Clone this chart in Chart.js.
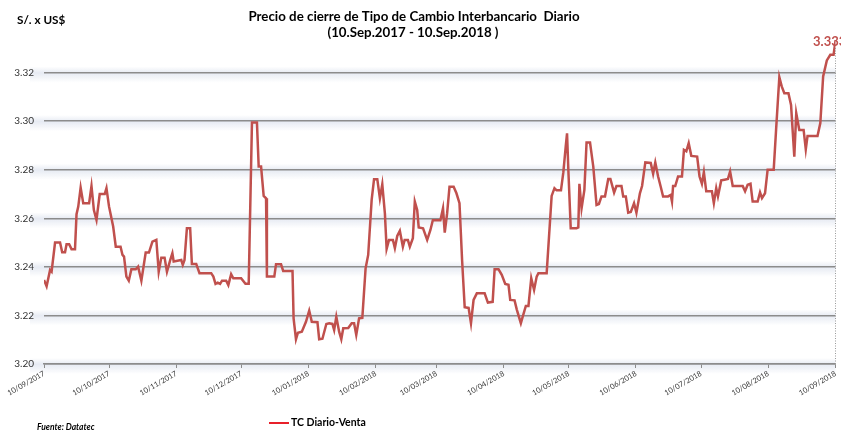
<!DOCTYPE html>
<html>
<head>
<meta charset="utf-8">
<script src="https://cdn.jsdelivr.net/npm/chart.js@4/dist/chart.umd.min.js"></script>
<style>
  html, body { margin: 0; padding: 0; background: #fff; }
  #wrap { width: 841px; height: 431px; }
</style>
</head>
<body>
<div id="wrap"><canvas id="tcChart" width="841" height="431"></canvas></div>
<script>
// days counted from 10/09/2017
const tickDays = [0, 30, 61, 91, 122, 153, 181, 212, 242, 273, 303, 334, 365];
const tickLabels = ['10/09/2017', '10/10/2017', '10/11/2017', '10/12/2017', '10/01/2018', '10/02/2018',
    '10/03/2018', '10/04/2018', '10/05/2018', '10/06/2018', '10/07/2018', '10/08/2018', '10/09/2018'];

const days = [
    0, 1.2, 2.8, 3.5, 5.1, 7.4, 8.4, 9.7, 10.4, 11.6, 12.7, 14.3, 15.0, 15.8, 16.9, 18.1, 20.8, 21.9, 23.0, 24.2,
    25.7, 28.0, 28.8, 30.0, 31.9, 33.1, 35.3, 36.2, 36.9, 38.0, 39.1, 40.3, 42.3, 43.4, 44.9, 46.9, 48.4, 50.0, 51.8, 52.9,
    54.1, 55.6, 56.7, 58.2, 59.2, 59.8, 63.3, 64.0, 64.8, 65.9, 67.4, 68.2, 70.2, 71.7, 77.1, 78.1, 79.1, 80.1, 81.2, 82.1,
    84.0, 85.0, 86.3, 87.3, 90.9, 92.9, 94.4, 95.9, 98.2, 99.0, 100.1, 101.3, 102.4, 102.8, 106.2, 107.0, 109.3, 110.3, 114.6, 115.1,
    116.2, 117.1, 118.9, 120.8, 122.3, 123.5, 126.1, 126.9, 128.4, 130.2, 131.5, 133.0, 133.8, 134.8, 136.1, 137.1, 138.0, 140.3, 141.9, 143.0,
    144.0, 145.3, 146.8, 148.3, 149.5, 151.1, 152.2, 153.7, 154.9, 156.0, 157.2, 158.0, 159.1, 160.9, 161.8, 162.9, 164.1, 165.5, 166.3, 167.8,
    168.7, 170.1, 171.0, 172.1, 172.8, 174.8, 176.7, 178.2, 179.3, 182.8, 184.0, 184.8, 185.9, 187.0, 188.9, 190.2, 191.6, 192.8, 194.0, 195.8,
    196.9, 198.1, 199.6, 203.2, 204.7, 206.9, 207.8, 209.6, 211.1, 212.7, 214.2, 215.0, 217.0, 218.0, 219.9, 220.8, 222.2, 223.4, 224.7, 226.0,
    227.2, 228.0, 231.8, 234.1, 235.4, 236.4, 238.4, 239.5, 240.6, 241.2, 241.8, 242.9, 245.6, 246.4, 246.9, 247.9, 249.2, 250.2, 251.8, 253.3,
    254.8, 255.9, 257.1, 258.7, 260.2, 261.2, 262.9, 264.0, 266.3, 267.1, 268.3, 269.4, 270.6, 271.4, 272.1, 273.2, 274.8, 275.8, 277.3, 279.8,
    280.9, 281.9, 283.2, 284.4, 285.5, 287.8, 289.0, 289.6, 290.1, 291.1, 292.4, 294.2, 295.1, 296.2, 297.3, 298.5, 301.2, 302.3, 303.4, 304.3,
    305.4, 308.0, 308.9, 310.0, 310.8, 312.3, 313.8, 315.4, 316.4, 317.6, 322.2, 323.3, 324.5, 325.8, 326.8, 329.1, 330.2, 331.1, 332.5, 333.7,
    336.5, 337.6, 339.1, 340.2, 341.4, 343.3, 344.5, 346.0, 346.9, 348.3, 350.3, 351.3, 352.1, 356.7, 358.0, 359.3, 361.0, 362.6, 364.1, 365
];

const rates = [
    3.2346, 3.2320, 3.2387, 3.2380, 3.2500, 3.2500, 3.2460, 3.2460, 3.2493, 3.2493, 3.2473, 3.2473, 3.2617, 3.2648, 3.2726, 3.2662, 3.2662, 3.2733, 3.2634, 3.2593,
    3.2700, 3.2700, 3.2724, 3.2648, 3.2566, 3.2483, 3.2483, 3.2449, 3.2442, 3.2360, 3.2343, 3.2390, 3.2390, 3.2401, 3.2343, 3.2459, 3.2459, 3.2504, 3.2511, 3.2380,
    3.2438, 3.2438, 3.2380, 3.2428, 3.2456, 3.2422, 3.2428, 3.2408, 3.2428, 3.2559, 3.2559, 3.2412, 3.2412, 3.2374, 3.2374, 3.2360, 3.2330, 3.2335, 3.2330, 3.2343,
    3.2343, 3.2325, 3.2370, 3.2353, 3.2353, 3.2330, 3.2330, 3.2994, 3.2994, 3.2813, 3.2813, 3.2692, 3.2682, 3.2360, 3.2360, 3.2411, 3.2411, 3.2383, 3.2383, 3.2188,
    3.2102, 3.2129, 3.2133, 3.2174, 3.2220, 3.2174, 3.2172, 3.2102, 3.2104, 3.2165, 3.2168, 3.2165, 3.2140, 3.2195, 3.2133, 3.2102, 3.2147, 3.2148, 3.2168, 3.2168,
    3.2120, 3.2188, 3.2190, 3.2394, 3.2449, 3.2676, 3.2761, 3.2761, 3.2682, 3.2740, 3.2620, 3.2474, 3.2511, 3.2511, 3.2477, 3.2527, 3.2548, 3.2483, 3.2511, 3.2511,
    3.2483, 3.2518, 3.2669, 3.2634, 3.2562, 3.2559, 3.2511, 3.2552, 3.2592, 3.2592, 3.2641, 3.2541, 3.2620, 3.2730, 3.2730, 3.2703, 3.2662, 3.2428, 3.2234, 3.2231,
    3.2168, 3.2264, 3.2291, 3.2291, 3.2253, 3.2256, 3.2390, 3.2390, 3.2367, 3.2330, 3.2326, 3.2264, 3.2262, 3.2225, 3.2168, 3.2196, 3.2239, 3.2239, 3.2353, 3.2305,
    3.2360, 3.2374, 3.2374, 3.2692, 3.2724, 3.2715, 3.2715, 3.2790, 3.2896, 3.2950, 3.2800, 3.2559, 3.2559, 3.2562, 3.2742, 3.2641, 3.2717, 3.2912, 3.2912, 3.2813,
    3.2655, 3.2659, 3.2690, 3.2690, 3.2762, 3.2762, 3.2706, 3.2733, 3.2733, 3.2690, 3.2690, 3.2623, 3.2626, 3.2645, 3.2662, 3.2623, 3.2703, 3.2733, 3.2830, 3.2828,
    3.2783, 3.2830, 3.2772, 3.2730, 3.2690, 3.2690, 3.2696, 3.2669, 3.2733, 3.2733, 3.2772, 3.2772, 3.2882, 3.2876, 3.2909, 3.2857, 3.2854, 3.2772, 3.2742, 3.2790,
    3.2711, 3.2711, 3.2662, 3.2724, 3.2690, 3.2756, 3.2759, 3.2762, 3.2793, 3.2733, 3.2733, 3.2711, 3.2738, 3.2742, 3.2669, 3.2669, 3.2707, 3.2683, 3.2703, 3.2800,
    3.2800, 3.2964, 3.3181, 3.3143, 3.3115, 3.3115, 3.3067, 3.2854, 3.3033, 3.2964, 3.2964, 3.2884, 3.2939, 3.2939, 3.2992, 3.3184, 3.3250, 3.3273, 3.3273, 3.3330
];

const lineColor = '#C0504D';
const gridColor = '#8c8c8c';
const font = 'Lato, "Liberation Sans", sans-serif';

// soft shadow under every horizontal gridline, like the original chart
const gridGlow = {
    id: 'gridGlow',
    beforeDraw(chart) {
        const { ctx, chartArea, scales } = chart;
        ctx.save();
        scales.y.ticks.forEach(t => {
            if (t.value > 3.33) return;
            const y = scales.y.getPixelForValue(t.value);
            const g = ctx.createLinearGradient(0, y - 6, 0, y + 10);
            g.addColorStop(0, 'rgba(220,226,238,0)');
            g.addColorStop(0.4, 'rgba(220,226,238,0.7)');
            g.addColorStop(1, 'rgba(220,226,238,0)');
            ctx.fillStyle = g;
            ctx.fillRect(chartArea.left - 14, y - 6, chartArea.right - chartArea.left + 14, 16);
        });
        ctx.restore();
    }
};

// titles, unit, source, legend and the last value label
const extras = {
    id: 'extras',
    afterDraw(chart) {
        const { ctx, chartArea, scales } = chart;
        ctx.save();
        ctx.fillStyle = '#000';
        ctx.textBaseline = 'middle';
        ctx.textAlign = 'center';
        ctx.font = 'bold 13.3px ' + font;
        ctx.fillText('Precio de cierre de Tipo de Cambio Interbancario  Diario', 414, 17);
        ctx.fillText('(10.Sep.2017 - 10.Sep.2018 )', 413, 33);

        ctx.textAlign = 'left';
        ctx.font = 'bold 11.7px ' + font;
        ctx.fillText('S/. x US$', 17, 20);

        ctx.font = 'italic bold 8.5px ' + font;
        ctx.fillText('Fuente: Datatec', 37, 427);

        ctx.strokeStyle = '#E8202A';
        ctx.lineWidth = 2;
        ctx.beginPath();
        ctx.moveTo(269, 423);
        ctx.lineTo(289, 423);
        ctx.stroke();
        ctx.font = 'bold 10.5px ' + font;
        ctx.fillText('TC Diario-Venta', 291, 423);

        // dotted marker on the last day
        const xLast = scales.x.getPixelForValue(days[days.length - 1]);
        ctx.strokeStyle = '#9a9a9a';
        ctx.lineWidth = 1;
        ctx.setLineDash([1, 1.5]);
        ctx.beginPath();
        ctx.moveTo(xLast, 48);
        ctx.lineTo(xLast, chartArea.bottom);
        ctx.stroke();
        ctx.setLineDash([]);

        ctx.fillStyle = lineColor;
        ctx.font = 'bold 13px ' + font;
        ctx.fillText(rates[rates.length - 1].toFixed(3), 813, 42);
        ctx.restore();
    }
};

const ctx = document.getElementById('tcChart').getContext('2d');
const tcChart = new Chart(ctx, {
    type: 'line',
    data: {
        datasets: [{
            label: 'TC Diario-Venta',
            data: days.map((d, i) => ({ x: d, y: rates[i] })),
            borderColor: lineColor,
            borderWidth: 2.5,
            pointRadius: 0,
            tension: 0,
            fill: false
        }]
    },
    options: {
        responsive: false,
        animation: false,
        devicePixelRatio: 1,
        layout: { padding: { top: 24, right: 3, bottom: 0, left: 0 } },
        plugins: {
            legend: { display: false },
            title: { display: false },
            tooltip: { enabled: false }
        },
        scales: {
            x: {
                type: 'linear',
                min: 0,
                max: 365,
                afterBuildTicks: axis => { axis.ticks = tickDays.map(v => ({ value: v })); },
                afterFit: axis => { axis.height = 67; },
                ticks: {
                    autoSkip: false,
                    minRotation: 30,
                    maxRotation: 30,
                    padding: 1,
                    color: '#333',
                    font: { family: font, size: 7.5 },
                    callback: value => tickLabels[tickDays.indexOf(value)]
                },
                grid: { drawOnChartArea: false, drawTicks: true, tickLength: 4, color: gridColor },
                border: { display: true, color: gridColor, width: 1.5 }
            },
            y: {
                min: 3.20,
                max: 3.34,
                afterFit: axis => { axis.width = 44; },
                ticks: {
                    stepSize: 0.02,
                    padding: 10,
                    color: '#333',
                    font: { family: font, size: 10 },
                    callback: value => value > 3.33 ? '' : value.toFixed(2)
                },
                grid: {
                    drawTicks: false,
                    lineWidth: 1.5,
                    color: c => c.tick && c.tick.value > 3.33 ? 'rgba(0,0,0,0)' : gridColor
                },
                border: { display: false }
            }
        }
    },
    plugins: [gridGlow, extras]
});
</script>
</body>
</html>
